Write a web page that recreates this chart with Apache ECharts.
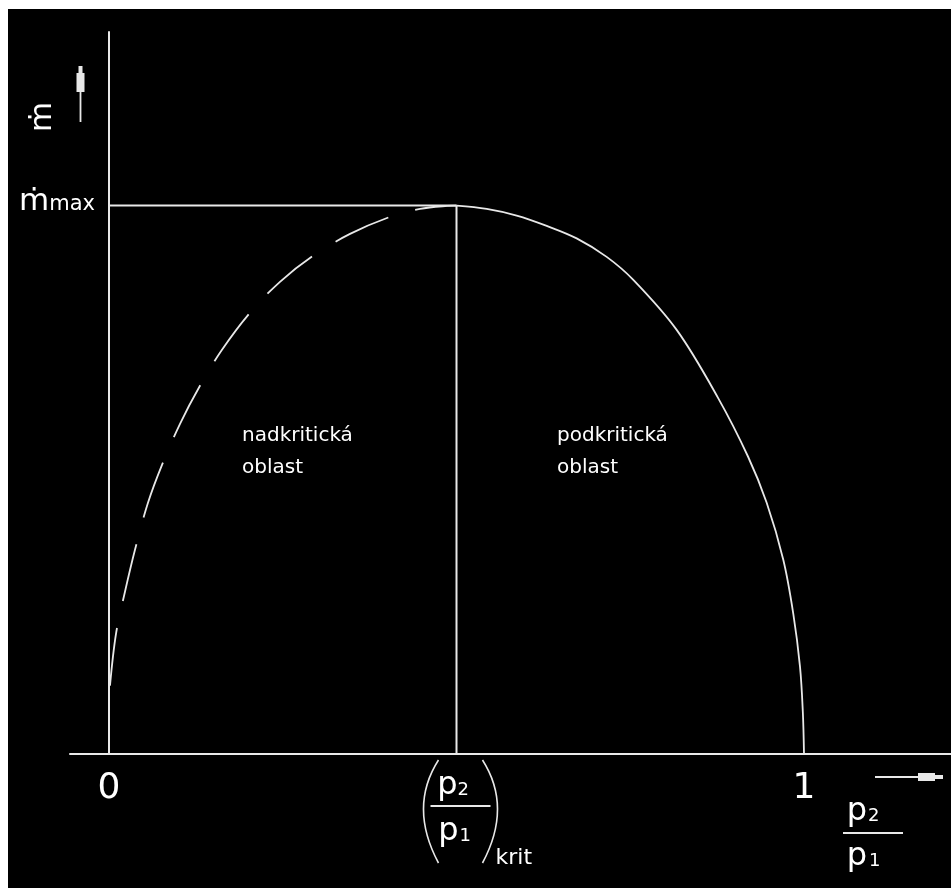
<!DOCTYPE html>
<html>
<head>
<meta charset="utf-8">
<script src="https://cdn.jsdelivr.net/npm/echarts@6/dist/echarts.min.js"></script>
<style>
  html, body { margin: 0; padding: 0; background: #ffffff; width: 951px; height: 888px; overflow: hidden; }
  #chart { position: absolute; left: 8px; top: 9px; width: 943px; height: 879px; }
</style>
</head>
<body>
<div id="chart"></div>
<script>
// Supercritical branch (p2/p1 below the critical ratio) - drawn dashed
const superRatio = [0.0014, 0.0101, 0.0230, 0.0374, 0.0561, 0.0763, 0.1022, 0.1309, 0.1626, 0.2029, 0.2460, 0.2935, 0.3468, 0.4043, 0.4475, 0.4863, 0.5];
const superFlow  = [0.1245, 0.2193, 0.2958, 0.3724, 0.4581, 0.5273, 0.6021, 0.6714, 0.7370, 0.8045, 0.8610, 0.9083, 0.9484, 0.9794, 0.9940, 0.9995, 1.0];

// Subcritical branch (critical ratio up to 1) - drawn solid
const subRatio = [0.5, 0.5435, 0.5866, 0.6298, 0.6729, 0.7161, 0.7544, 0.8168, 0.8763, 0.9194, 0.9463, 0.9702, 0.9846, 0.9942, 0.9983, 1.0];
const subFlow  = [1.0, 0.9940, 0.9818, 0.9630, 0.9402, 0.9065, 0.8646, 0.7734, 0.6495, 0.5425, 0.4581, 0.3542, 0.2557, 0.1597, 0.0771, 0.0];

const critRatio = 0.5;
const maxFlow = 1;

const xTickValues = [0, 1];
const xTickLabels = ['0', '1'];
const regionLabels = ['nadkritická\noblast', 'podkritická\noblast'];

const FONT = 'DejaVu Sans';
const INK = '#ffffff';
const LINE = '#e8e8e8';

const zip = (xs, ys) => xs.map((x, i) => [x, ys[i]]);

const chart = echarts.init(document.getElementById('chart'), null, { renderer: 'canvas' });

const option = {
  backgroundColor: '#000000',
  animation: false,
  grid: { left: 62, right: 0, top: 23, bottom: 134, outerBoundsMode: 'none' },
  xAxis: {
    type: 'value',
    min: -0.0561,
    max: 1.2115,
    splitLine: { show: false },
    axisTick: { show: false },
    axisLine: { show: true, onZero: true, lineStyle: { color: LINE, width: 2 } },
    axisLabel: {
      customValues: xTickValues,
      margin: 17,
      color: INK,
      fontFamily: FONT,
      fontSize: 36,
      formatter: v => xTickLabels[xTickValues.indexOf(v)] ?? ''
    }
  },
  yAxis: {
    type: 'value',
    min: 0,
    max: 1.3166,
    splitLine: { show: false },
    axisTick: { show: false },
    axisLine: { show: true, onZero: true, lineStyle: { color: LINE, width: 2 } },
    axisLabel: {
      customValues: [maxFlow],
      margin: -25,
      padding: [0, 0, 8, 0],
      color: INK,
      fontFamily: FONT,
      formatter: v => (v === maxFlow ? '{m|ṁ}{s|max}' : ''),
      rich: {
        m: { fontSize: 31, fontFamily: FONT, color: INK, verticalAlign: 'bottom' },
        s: { fontSize: 21, fontFamily: FONT, color: INK, verticalAlign: 'bottom', padding: [0, 0, 2, 0] }
      }
    }
  },
  series: [
    {
      name: 'max',
      type: 'line',
      symbol: 'none',
      data: [[0, maxFlow], [critRatio, maxFlow]],
      lineStyle: { color: LINE, width: 2 }
    },
    {
      name: 'krit',
      type: 'line',
      symbol: 'none',
      data: [[critRatio, 0], [critRatio, maxFlow]],
      lineStyle: { color: LINE, width: 2 }
    },
    {
      name: 'nadkritická',
      type: 'line',
      symbol: 'none',
      smooth: 0.35,
      data: zip(superRatio, superFlow),
      lineStyle: { color: LINE, width: 1.8, type: [58, 28] }
    },
    {
      name: 'podkritická',
      type: 'line',
      symbol: 'none',
      smooth: 0.35,
      data: zip(subRatio, subFlow),
      lineStyle: { color: LINE, width: 1.8 }
    }
  ]
};

chart.setOption(option);

// Annotations placed relative to the axes
const cx = chart.convertToPixel({ xAxisIndex: 0 }, critRatio);

function txt(x, y, text, size, align, vAlign, extra) {
  return Object.assign({
    type: 'text',
    x: x, y: y,
    style: {
      text: text,
      font: size + 'px "' + FONT + '"',
      fill: INK,
      align: align, textAlign: align,
      verticalAlign: vAlign, textVerticalAlign: vAlign
    },
    z: 10
  }, extra || {});
}
function seg(points, w) {
  return { type: 'polyline', shape: { points: points }, style: { stroke: LINE, lineWidth: w || 1.8, fill: null }, z: 10 };
}
function poly(points) {
  return { type: 'polygon', shape: { points: points }, style: { fill: LINE }, z: 10 };
}
function paren(x1, yTop, cpx, yMid, yBot) {
  return {
    type: 'bezierCurve',
    shape: { x1: x1, y1: yTop, x2: x1, y2: yBot, cpx1: cpx, cpy1: yMid },
    style: { stroke: LINE, lineWidth: 1.6, fill: null },
    z: 10
  };
}

const graphics = [
  // y-axis name: rotated m-dot with upward arrow
  txt(35, 108, 'ṁ', 31, 'center', 'middle', { rotation: Math.PI / 2 }),
  seg([[72.5, 113], [72.5, 83]], 1.8),
  poly([[70.5, 57], [74.5, 57], [74.5, 64], [76.5, 64], [76.5, 83], [68.5, 83], [68.5, 64], [70.5, 64]]),

  // critical ratio label ( p2 / p1 )krit
  txt(cx + 1, 776.5, 'p', 32, 'right', 'middle'),
  txt(cx + 1, 781.5, '2', 18, 'left', 'middle'),
  seg([[cx - 26, 797], [cx + 34, 797]], 2),
  txt(cx + 2, 822.5, 'p', 32, 'right', 'middle'),
  txt(cx + 3, 827.5, '1', 18, 'left', 'middle'),
  paren(cx - 18, 751, -48 + cx, 798, 854),
  paren(cx + 26, 751, cx + 56, 798, 854),
  txt(cx + 39, 849, 'krit', 22, 'left', 'middle'),

  // x-axis name: p2 / p1 with arrow
  seg([[867, 768], [910, 768]], 1.8),
  poly([[910, 764], [927, 764], [927, 766], [935, 766], [935, 770], [927, 770], [927, 772], [910, 772]]),
  txt(859, 802.5, 'p', 32, 'right', 'middle'),
  txt(860, 807.5, '2', 18, 'left', 'middle'),
  seg([[835, 824], [895, 824]], 2),
  txt(859, 847.5, 'p', 32, 'right', 'middle'),
  txt(861, 852.5, '1', 18, 'left', 'middle'),

  // region captions
  {
    type: 'text', x: 234, y: 411, z: 10,
    style: { text: regionLabels[0], font: '20px "' + FONT + '"', fill: INK, lineHeight: 32, align: 'left', verticalAlign: 'top', textAlign: 'left', textVerticalAlign: 'top' }
  },
  {
    type: 'text', x: 549, y: 411, z: 10,
    style: { text: regionLabels[1], font: '20px "' + FONT + '"', fill: INK, lineHeight: 32, align: 'left', verticalAlign: 'top', textAlign: 'left', textVerticalAlign: 'top' }
  }
];

chart.setOption({ graphic: { elements: graphics } });
</script>
</body>
</html>
